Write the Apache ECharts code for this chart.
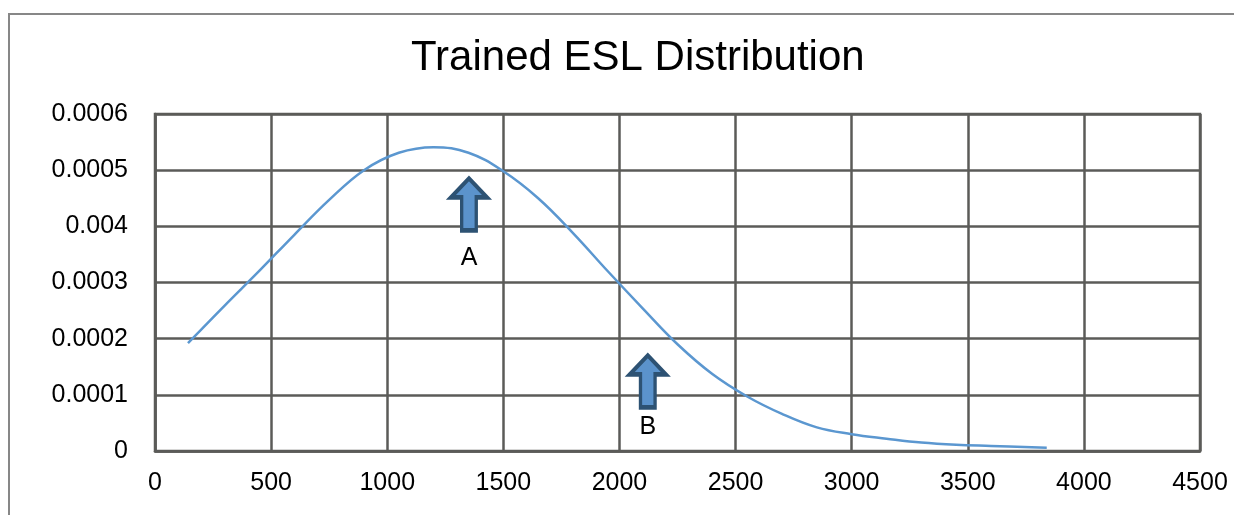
<!DOCTYPE html>
<html>
<head>
<meta charset="utf-8">
<title>Trained ESL Distribution</title>
<script src="https://cdn.jsdelivr.net/npm/echarts@6/dist/echarts.min.js"></script>
<style>
  html, body { margin: 0; padding: 0; background: #ffffff; }
  #chart { width: 1234px; height: 515px; }
</style>
</head>
<body>
<div id="chart"></div>
<script>
// ESL values and their estimated density
const eslValues = [142, 300, 450, 600, 750, 900, 1050, 1200, 1350, 1500, 1650, 1800, 1950, 2100, 2250, 2400, 2550, 2700, 2850, 3000, 3150, 3300, 3450, 3600, 3840];
const densityValues = [0.000192, 0.000259, 0.000321, 0.000385, 0.000447, 0.0005, 0.000531, 0.000541, 0.000531, 0.000498, 0.00045, 0.000388, 0.00032, 0.000254, 0.00019, 0.000137, 0.000097, 0.000066, 0.000042, 0.00003, 0.000022, 0.000015, 0.000011, 0.000009, 0.000006];

// Y tick labels as printed on the axis
const yTickLabels = ['0', '0.0001', '0.0002', '0.0003', '0.004', '0.0005', '0.0006'];

// Arrow annotations (centre of each arrow, in data units)
const markerNames = ['A', 'B'];
const markerEsl = [1352, 2122];
const markerDensity = [0.000439, 0.000124];
const markerLabelGap = [13, 5];

const FONT = '"Liberation Sans", Arial, sans-serif';
const GRID_COLOR = '#5b5b58';

const arrowPath = 'path://M18,0 L36,19 L25.3,19 L25.3,52 L10.7,52 L10.7,19 L0,19 Z';

const chart = echarts.init(document.getElementById('chart'), null, { renderer: 'canvas' });

chart.setOption({
  animation: false,
  backgroundColor: '#ffffff',
  title: {
    text: 'Trained ESL Distribution',
    left: 406,
    top: 32,
    textStyle: { fontFamily: FONT, fontSize: 42, fontWeight: 'normal', color: '#000000' }
  },
  graphic: [{
    type: 'rect',
    shape: { x: 9, y: 14, width: 1240, height: 520 },
    style: { fill: 'none', stroke: '#878787', lineWidth: 2 },
    silent: true
  }],
  grid: {
    left: 155, right: 34, top: 114, bottom: 64,
    show: true, borderColor: GRID_COLOR, borderWidth: 2.5, backgroundColor: 'transparent'
  },
  xAxis: {
    type: 'value',
    min: 0, max: 4500, interval: 500,
    axisLine: { show: true, lineStyle: { color: GRID_COLOR, width: 2.5 } },
    axisTick: { show: false },
    splitLine: { show: true, lineStyle: { color: GRID_COLOR, width: 2.5 } },
    axisLabel: {
      margin: 20, fontFamily: FONT, fontSize: 25, color: '#000000',
      formatter: (value) => String(value)
    }
  },
  yAxis: {
    type: 'value',
    min: 0, max: 0.0006, interval: 0.0001,
    axisLine: { show: true, lineStyle: { color: GRID_COLOR, width: 2.5 } },
    axisTick: { show: false },
    splitLine: { show: true, lineStyle: { color: GRID_COLOR, width: 2.5 } },
    axisLabel: {
      margin: 27, fontFamily: FONT, fontSize: 25, color: '#000000',
      padding: [4, 0, 0, 0],
      formatter: (value) => yTickLabels[Math.round(value / 0.0001)]
    }
  },
  series: [{
    type: 'line',
    data: eslValues.map((x, i) => [x, densityValues[i]]),
    smooth: 0.4,
    showSymbol: false,
    lineStyle: { color: '#5b97d0', width: 2.5 },
    markPoint: {
      symbol: arrowPath,
      symbolSize: [36, 52],
      itemStyle: { color: '#5b93cc', borderColor: '#2d5273', borderWidth: 4 },
      data: markerNames.map((name, i) => ({
        name: name,
        coord: [markerEsl[i], markerDensity[i]],
        label: {
          show: true,
          position: 'bottom',
          distance: markerLabelGap[i],
          formatter: name,
          fontFamily: FONT,
          fontSize: 25,
          color: '#000000'
        }
      }))
    }
  }]
});
</script>
</body>
</html>
